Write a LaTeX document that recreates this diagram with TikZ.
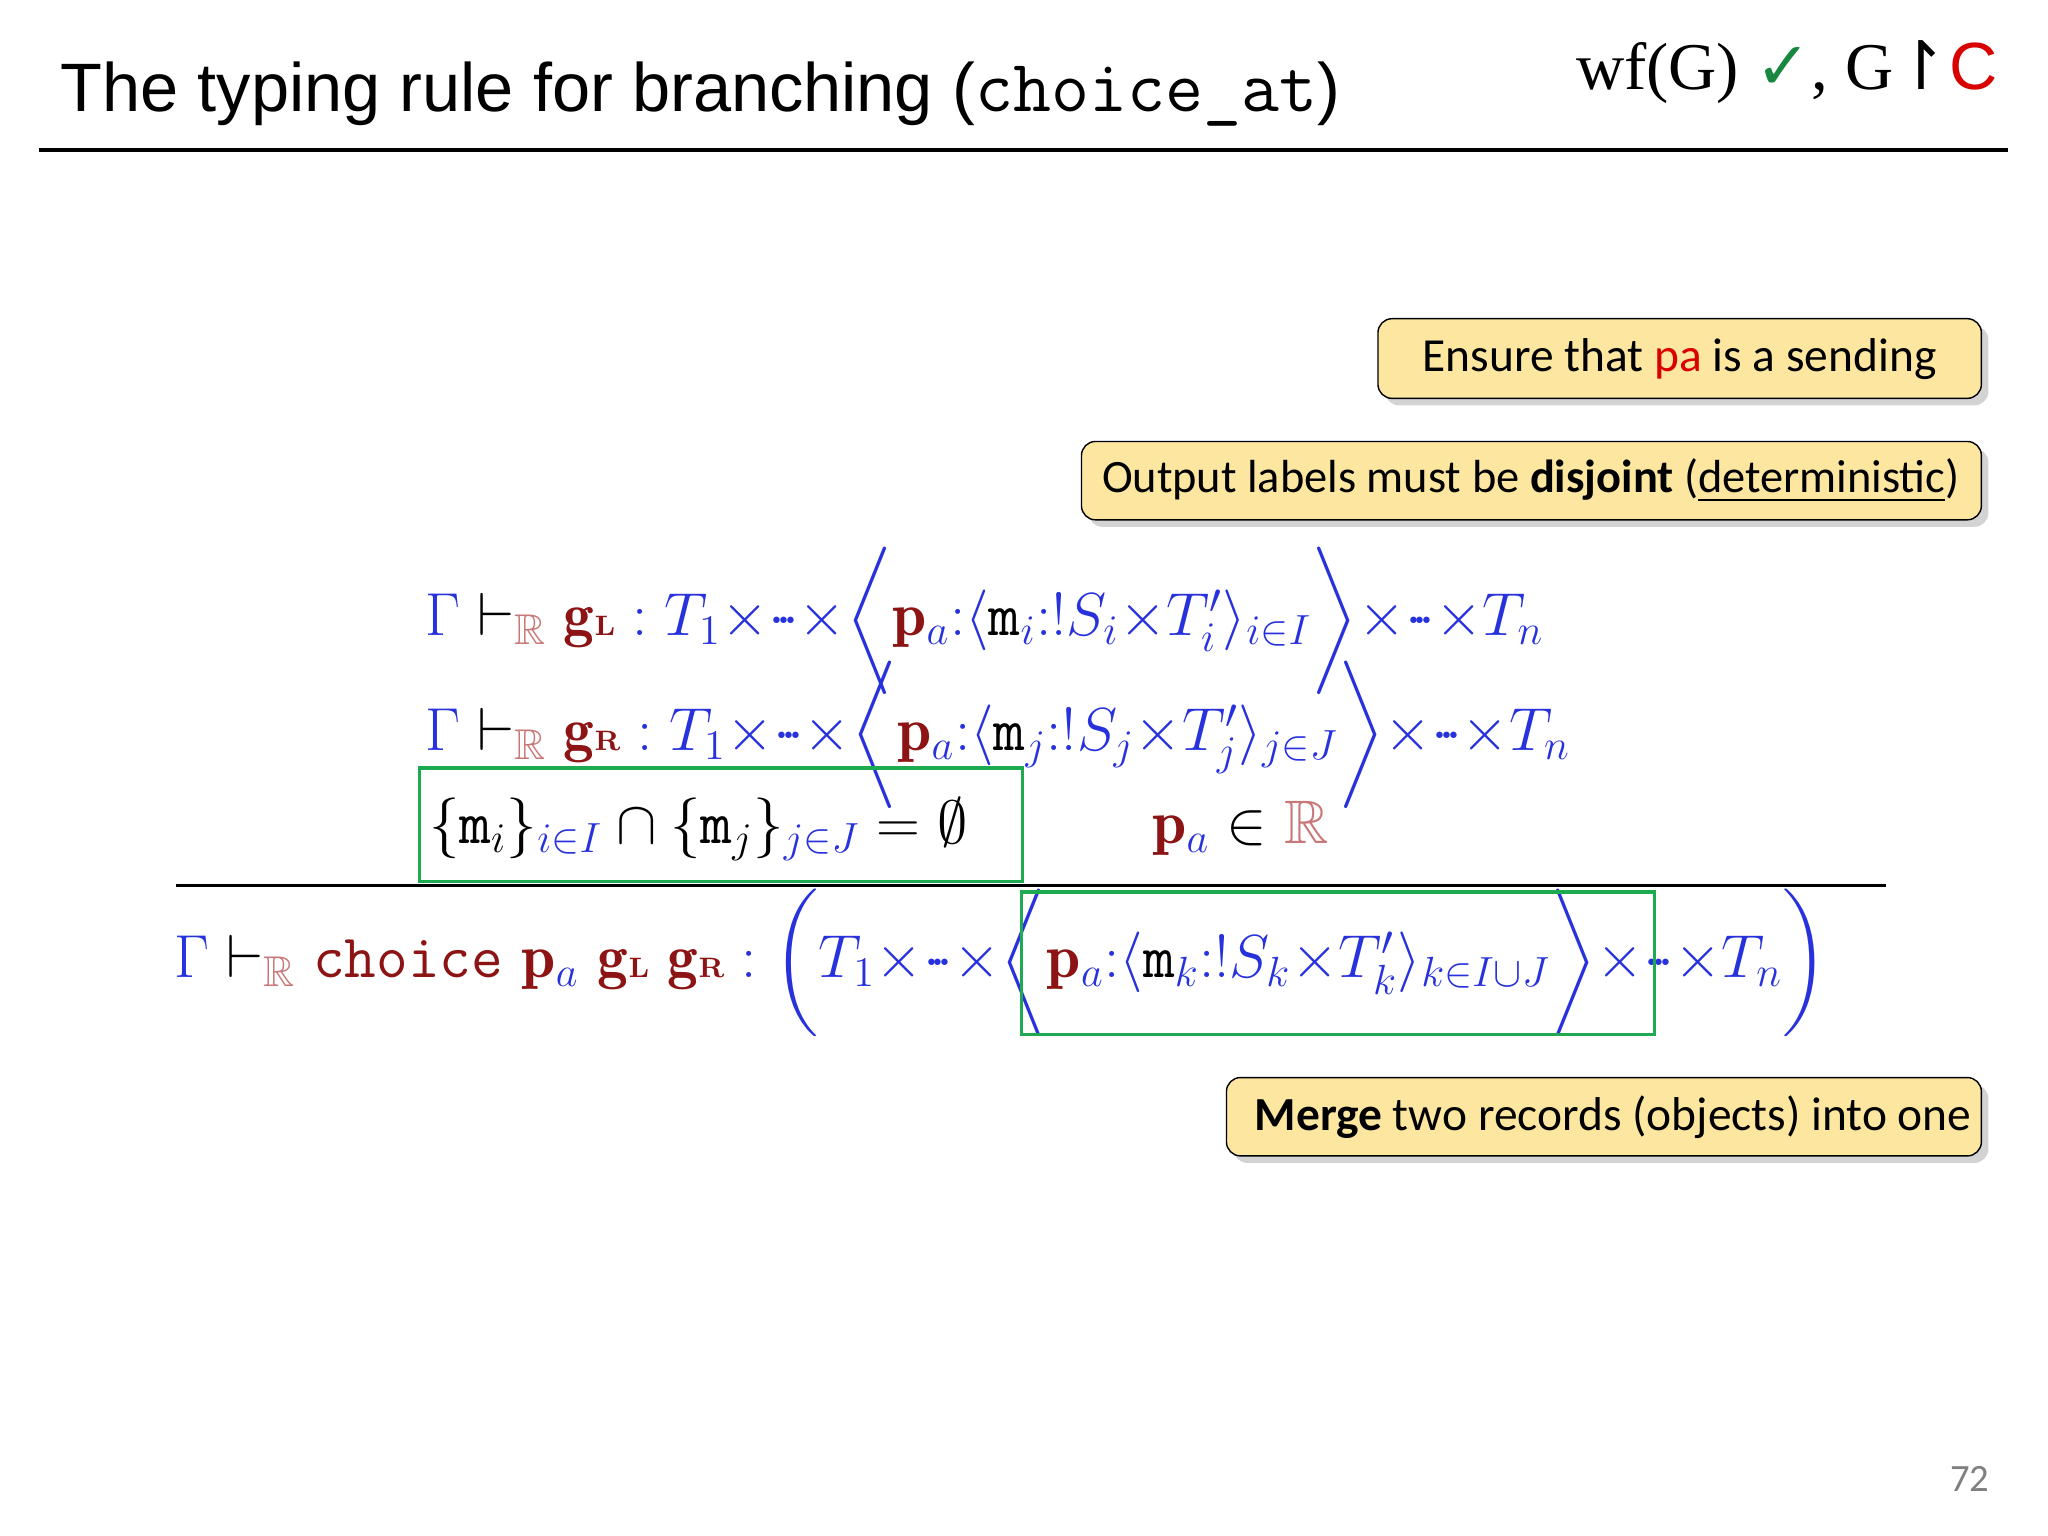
\documentclass[tikz,border=0pt]{standalone}
\usepackage{amsmath,amssymb}
\usepackage{fontspec}
\usetikzlibrary{shadows}
\newfontfamily\hsans{Liberation Sans}
\newfontfamily\calf{Carlito}
\newfontfamily\djf{DejaVu Sans}
\newfontfamily\tms{Liberation Serif}
\definecolor{mb}{RGB}{40,50,220}
\definecolor{brn}{RGB}{140,20,20}
\definecolor{pink}{RGB}{200,120,120}
\definecolor{yel}{RGB}{252,230,160}
\definecolor{grn}{RGB}{30,170,80}
\newcommand\PA{\textcolor{brn}{\mathbf{p}}_{\textcolor{mb}{a}}}
\newcommand\GL{\textcolor{brn}{\mathbf{g}\text{\textbf{\footnotesize L}}}}
\newcommand\GR{\textcolor{brn}{\mathbf{g}\text{\textbf{\footnotesize R}}}}
\newcommand\RR{\textcolor{pink}{\mathbb{R}}}
\newcommand\TR{\mathrel{\textcolor{black}{\vdash_{\RR}}}}
\newcommand\mm{\textcolor{black}{\mathtt{m}}}
\newcommand\X{{\times}}
\newcommand\DD{{\cdot}\!{\cdot}\!{\cdot}}
\tikzset{callout/.style={fill=yel,rounded corners=4pt,drop shadow={shadow xshift=2pt,shadow yshift=-2pt,opacity=0.35},inner sep=0pt},
 fm/.style={anchor=west,inner sep=0pt,font=\fontsize{17.5}{21}\selectfont,text=mb},
 gbox/.style={draw=grn,line width=0.9pt}}
\begin{document}
\begin{tikzpicture}[x=0.013061cm,y=-0.013061cm]
\useasboundingbox (0,0) rectangle (1568,1176);
\node[anchor=west,inner sep=0pt,font=\hsans\fontsize{19.5}{22}\selectfont] (title) at (46,72) {The typing rule for branching (\texttt{\fontsize{21}{22}\selectfont choice\_at})};
\node[anchor=east,inner sep=0pt,font=\tms\fontsize{19}{22}\selectfont] (hdr) at (1530,55) {wf(G) {\djf\color{grn!80!black}✓}, G{\djf ↾}{\hsans\color{red!85!black}C}};
\draw[line width=1.2pt] (30,115) -- (1537,115);
\draw[callout] (1055,244) rectangle (1517,305);
\node[font=\calf\fontsize{13.5}{16}\selectfont] (c1) at (1286,275) {Ensure that {\color{red!85!black}pa} is a sending};
\draw[callout] (828,338) rectangle (1517,398);
\node[font=\calf\fontsize{13.2}{16}\selectfont] (c2) at (1172,368) {Output labels must be \textbf{disjoint} (\underline{deterministic})};
\draw[callout] (939,825) rectangle (1517,885);
\node[font=\calf\fontsize{13.5}{16}\selectfont] (c3) at (1235,855) {\textbf{Merge} two records (objects) into one};
\node[fm] (l1) at (325,475) {$\textcolor{mb}{\Gamma}\TR \GL : T_1\X\DD\X\bigg\langle \PA{:}\langle \mm_i{:}!S_i\X T'_i\rangle_{i\in I}\bigg\rangle\X\DD\X T_n$};
\node[fm] (l2) at (325,563) {$\textcolor{mb}{\Gamma}\TR \GR : T_1\X\DD\X\bigg\langle \PA{:}\langle \mm_j{:}!S_j\X T'_j\rangle_{j\in J}\bigg\rangle\X\DD\X T_n$};
\node[fm,text=black] (l3) at (328,635) {$\{\mm_i\}_{\textcolor{mb}{i\in I}}\cap\{\mm_j\}_{\textcolor{mb}{j\in J}}=\emptyset\qquad\quad \PA\in\RR$};
\draw[gbox] (321,588) rectangle (783,675);
\draw[line width=1pt] (135,678) -- (1444,678);
\node[fm] (l4) at (133,737) {$\textcolor{mb}{\Gamma}\TR \textcolor{brn}{\texttt{choice}}\ \PA\ \GL\ \GR : \bigg(T_1\X\DD\X\bigg\langle \PA{:}\langle \mm_k{:}!S_k\X T'_k\rangle_{k\in I\cup J}\bigg\rangle\X\DD\X T_n\bigg)$};
\draw[gbox] (782,683) rectangle (1267,792);
\node[font=\calf\fontsize{11}{13}\selectfont,text=gray] (pg) at (1508,1132) {72};
\end{tikzpicture}
\end{document}
